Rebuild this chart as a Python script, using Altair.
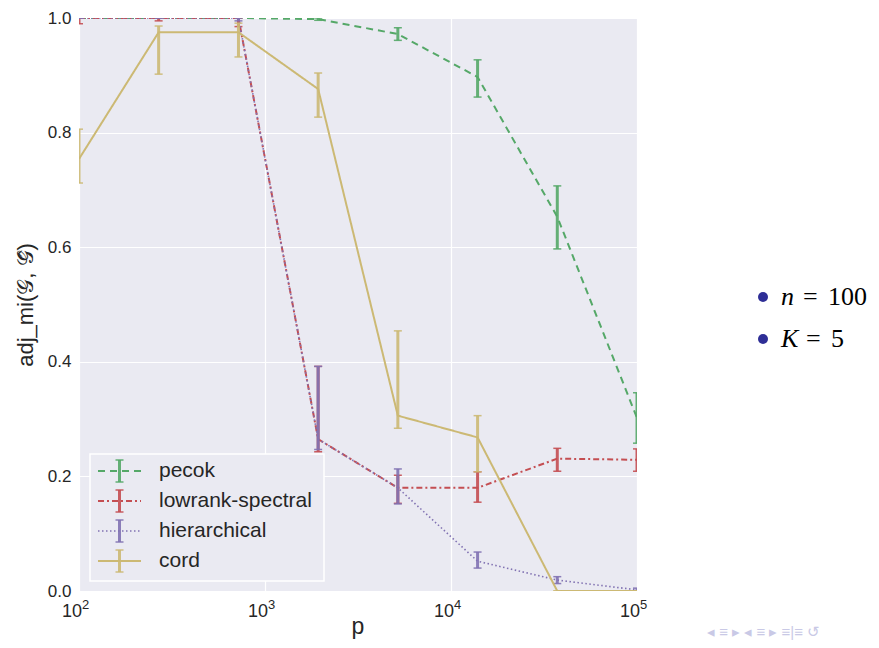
import altair as alt
import pandas as pd

p = [100, 268, 720, 1931, 5179, 13895, 37276, 100000]

series = ["pecok", "lowrank-spectral", "hierarchical", "cord"]
colors = ["#55A868", "#C44E52", "#8172B2", "#CCB974"]
dashes = [[7, 5], [6, 3, 2, 3], [1.5, 2.5], [1, 0]]
widths = [2, 2, 1.6, 2]

pecok_mean = [1.0, 1.0, 1.0, 0.998, 0.972, 0.897, 0.653, 0.302]
pecok_lo = [1.0, 1.0, 1.0, 0.996, 0.961, 0.862, 0.597, 0.258]
pecok_hi = [1.0, 1.0, 1.0, 1.0, 0.983, 0.927, 0.707, 0.346]

low_mean = [1.0, 1.0, 1.0, 0.265, 0.180, 0.180, 0.231, 0.229]
low_lo = [0.99, 0.995, 0.985, 0.243, 0.153, 0.155, 0.209, 0.209]
low_hi = [1.0, 1.0, 1.0, 0.392, 0.202, 0.208, 0.249, 0.248]

hier_mean = [1.0, 1.0, 1.0, 0.265, 0.180, 0.052, 0.019, 0.002]
hier_lo = [1.0, 1.0, 0.995, 0.247, 0.152, 0.040, 0.013, 0.0]
hier_hi = [1.0, 1.0, 1.0, 0.392, 0.213, 0.068, 0.025, 0.005]

cord_mean = [0.754, 0.975, 0.975, 0.876, 0.306, 0.268, 0.0, 0.0]
cord_lo = [0.712, 0.902, 0.932, 0.827, 0.284, 0.208, 0.0, 0.0]
cord_hi = [0.806, 0.986, 0.991, 0.904, 0.454, 0.306, 0.0, 0.0]

x_ticks = [100, 1000, 10000, 100000]
x_tick_base = ["10", "10", "10", "10"]
x_tick_exp = ["2", "3", "4", "5"]

means = [pecok_mean, low_mean, hier_mean, cord_mean]
los = [pecok_lo, low_lo, hier_lo, cord_lo]
his = [pecok_hi, low_hi, hier_hi, cord_hi]

W, H = 558, 573
BG = "#EAEAF2"
TXT = "#262626"
FONT = "Liberation Sans"

xscale = alt.Scale(type="log", domain=[100, 100000], nice=False)
yscale = alt.Scale(domain=[0, 1], nice=False)

xaxis = alt.Axis(values=x_ticks, labels=False, title=None,
                 grid=True, gridColor="white", gridWidth=1.2, ticks=False, domain=False)
yaxis = alt.Axis(values=[0, 0.2, 0.4, 0.6, 0.8, 1.0], format=".1f",
                 title="adj_mi(𝒢, 𝒢̂)", titleFontSize=22, titleFontWeight="normal", titleColor=TXT,
                 labelFontSize=17, labelColor=TXT, labelPadding=8, titlePadding=10,
                 grid=True, gridColor="white", gridWidth=1.2, ticks=False, domain=False,
                 labelFont=FONT, titleFont=FONT)

X = alt.X("p:Q", scale=xscale, axis=xaxis)


def Y(field):
    return alt.Y(field, scale=yscale, axis=yaxis)


layers = []
for i, name in enumerate(series):
    df = pd.DataFrame({"p": p, "mean": means[i], "lo": los[i], "hi": his[i], "series": name})
    base = alt.Chart(df)
    line = base.mark_line(color=colors[i], strokeDash=dashes[i], strokeWidth=widths[i], clip=True).encode(
        x=X, y=Y("mean:Q"))
    bar = base.mark_rule(color=colors[i], strokeWidth=3, opacity=0.9, clip=True).encode(
        x=X, y=Y("lo:Q"), y2="hi:Q")
    cap_lo = base.mark_tick(color=colors[i], orient="horizontal", size=8, thickness=1.5, opacity=0.9, clip=True).encode(
        x=X, y=Y("lo:Q"))
    cap_hi = base.mark_tick(color=colors[i], orient="horizontal", size=8, thickness=1.5, opacity=0.9, clip=True).encode(
        x=X, y=Y("hi:Q"))
    layers += [line, bar, cap_lo, cap_hi]

# x tick labels 10^k drawn through the x scale
tick_df = pd.DataFrame({"p": x_ticks, "base": x_tick_base, "exp": x_tick_exp})
tick_base = alt.Chart(tick_df)
layers.append(tick_base.mark_text(align="right", baseline="alphabetic", fontSize=18, font=FONT,
                                  color=TXT, dx=3).encode(x=X, y=alt.value(H + 26), text="base:N"))
layers.append(tick_base.mark_text(align="left", baseline="alphabetic", fontSize=13, font=FONT,
                                  color=TXT, dx=3).encode(x=X, y=alt.value(H + 18), text="exp:N"))

dummy = alt.Chart(pd.DataFrame({"a": [0]}))
# x axis title
layers.append(dummy.mark_text(text="p", align="center", baseline="alphabetic", fontSize=23, font=FONT,
                              color=TXT).encode(x=alt.value(W / 2), y=alt.value(H + 43)))

# custom legend (matplotlib style) in pixel space
lx0, lx1, ly0, ly1 = 11, 245, 436, 563
layers.append(dummy.mark_rect(fill=BG, stroke="white", strokeWidth=1.5).encode(
    x=alt.value(lx0), x2=alt.value(lx1), y=alt.value(ly0), y2=alt.value(ly1)))
row_y = [453, 483, 513, 543]
for i, name in enumerate(series):
    yy = row_y[i]
    layers.append(dummy.mark_rule(color=colors[i], strokeDash=dashes[i], strokeWidth=widths[i]).encode(
        x=alt.value(19), x2=alt.value(62), y=alt.value(yy)))
    layers.append(dummy.mark_rule(color=colors[i], strokeWidth=3, opacity=0.9).encode(
        x=alt.value(40.5), y=alt.value(yy - 11), y2=alt.value(yy + 11)))
    for dy in (-11, 11):
        layers.append(dummy.mark_rule(color=colors[i], strokeWidth=1.5, opacity=0.9).encode(
            x=alt.value(36.5), x2=alt.value(44.5), y=alt.value(yy + dy)))
    layers.append(dummy.mark_text(text=name, align="left", baseline="middle", fontSize=21,
                                  font=FONT, color=TXT).encode(
        x=alt.value(80), y=alt.value(yy)))

# beamer bullet items on the right
items_y = [279, 321]
item_var = ["n", "K"]
item_val = ["100", "5"]
eq_x = [724, 727]
val_x = [749, 752]
for j in range(2):
    layers.append(dummy.mark_point(filled=True, shape="circle", size=100, color="#2E2E96", opacity=1).encode(
        x=alt.value(684), y=alt.value(items_y[j])))
    layers.append(dummy.mark_text(text=item_var[j], align="left", baseline="middle", fontSize=26,
                                  font="Liberation Serif", fontStyle="italic", color="black").encode(
        x=alt.value(702), y=alt.value(items_y[j])))
    layers.append(dummy.mark_text(text="=", align="left", baseline="middle", fontSize=26,
                                  font="Liberation Serif", color="black").encode(
        x=alt.value(eq_x[j]), y=alt.value(items_y[j])))
    layers.append(dummy.mark_text(text=item_val[j], align="left", baseline="middle", fontSize=26,
                                  font="Liberation Serif", color="black").encode(
        x=alt.value(val_x[j]), y=alt.value(items_y[j])))

# faint beamer navigation symbols
layers.append(dummy.mark_text(text="◂ ≡ ▸     ◂ ≡ ▸     ≡|≡      ↺", align="left", baseline="middle", fontSize=15,
                              color="#C9C9E6").encode(x=alt.value(628), y=alt.value(614)))

chart = alt.layer(*layers).properties(
    width=W, height=H,
    autosize=alt.AutoSizeParams(type="none"),
    padding={"left": 71, "top": 10, "right": 234, "bottom": 49},
).configure(background="white", view=alt.ViewConfig(fill=BG, stroke=None))

chart.save("out.html", embed_options={"renderer": "svg", "actions": False})
